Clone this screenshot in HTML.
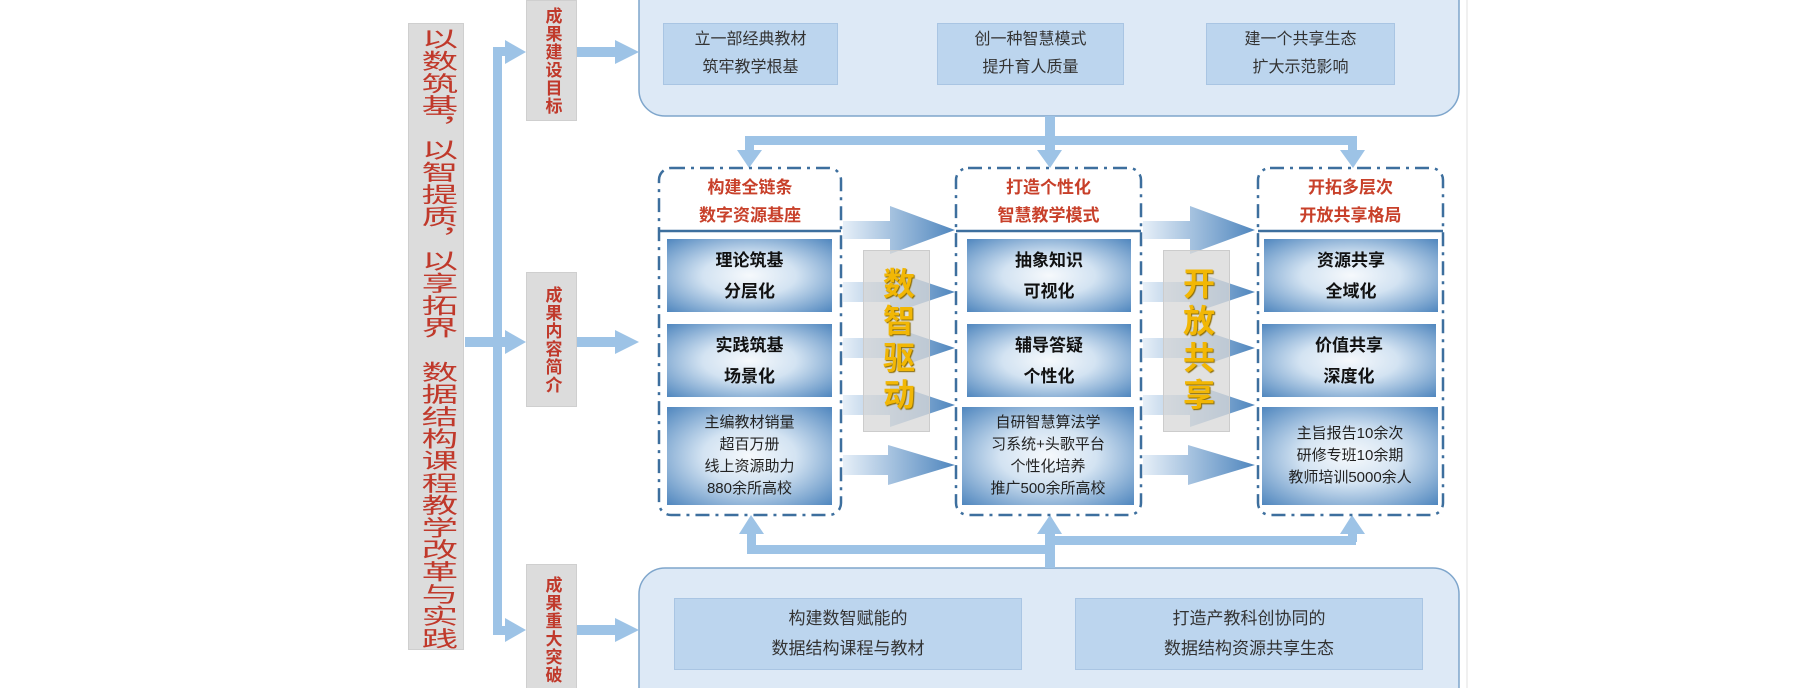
<!DOCTYPE html>
<html><head><meta charset="utf-8"><style>
html,body{margin:0;padding:0;background:#fff;}
#w{position:relative;width:1813px;height:688px;overflow:hidden;background:#fff;font-family:"Liberation Sans","Noto Sans CJK SC",sans-serif;}
.abs{position:absolute;}
.vt{writing-mode:vertical-rl;text-orientation:upright;white-space:nowrap;}
.lab{background:#dcdcdc;border:1px solid #cfcfcf;color:#c0392b;font-weight:bold;font-size:17px;line-height:20px;letter-spacing:1px;display:flex;align-items:center;justify-content:center;}
.tb{position:absolute;background:#bcd5ee;border:1px solid #a9c5e3;color:#333;font-size:16px;line-height:28px;text-align:center;display:flex;align-items:center;justify-content:center;}
.ib{position:absolute;background:radial-gradient(ellipse at center,#f6f9fc 0%,#d3e3f2 40%,#4f86be 100%);color:#111;text-align:center;display:flex;align-items:center;justify-content:center;}
.ib.b{font-weight:bold;font-size:17px;line-height:31px;}
.ib.n{font-size:15px;line-height:22px;color:#222;}
.ttl{position:absolute;color:#c8402a;font-size:17px;font-weight:bold;line-height:28px;text-align:center;}
.gold{position:absolute;background:rgba(215,215,215,0.75);border:1px solid #ccc;color:#f2b705;font-weight:bold;font-size:32px;line-height:37px;letter-spacing:5px;display:flex;align-items:center;justify-content:center;text-shadow:1px 1px 1px #8a6a00;}
</style></head><body><div id="w">
<svg class="abs" style="left:0;top:0" width="1813" height="688">
<defs>
<linearGradient id="ag" x1="0" x2="1" y1="0" y2="0"><stop offset="0" stop-color="#e6eff8"/><stop offset="1" stop-color="#4f86be"/></linearGradient>
</defs>
<line x1="1467" y1="0" x2="1467" y2="688" stroke="#e2e2e2" stroke-width="1"/>
<rect x="639" y="-30" width="820" height="146" rx="26" fill="#dde9f6" stroke="#7fa6cc" stroke-width="1.5"/>
<rect x="639" y="568" width="820" height="150" rx="26" fill="#dde9f6" stroke="#7fa6cc" stroke-width="1.5"/>
<g fill="#9dc3e6" stroke="none">
<rect x="465" y="337" width="36" height="10"/>
<rect x="493" y="48" width="9" height="587"/>
<rect x="493" y="47" width="15" height="9"/><polygon points="505,40 526,52 505,64"/>
<rect x="493" y="337" width="15" height="10"/><polygon points="505,330 526,342 505,354"/>
<rect x="493" y="626" width="15" height="9"/><polygon points="505,618 526,630 505,642"/>
<rect x="575" y="47" width="42" height="10"/><polygon points="615,40 639,52 615,64"/>
<rect x="575" y="337" width="42" height="10"/><polygon points="615,330 639,342 615,354"/>
<rect x="575" y="625" width="42" height="10"/><polygon points="615,618 639,630 615,642"/>
<rect x="1045" y="116" width="10" height="28"/>
<rect x="745" y="136" width="612" height="9"/>
<rect x="745" y="136" width="9" height="16"/><polygon points="737,150 762,150 749,168"/>
<rect x="1045" y="136" width="10" height="16"/><polygon points="1037,150 1062,150 1050,168"/>
<rect x="1348" y="136" width="9" height="16"/><polygon points="1340,150 1365,150 1353,168"/>
<rect x="1045" y="530" width="10" height="38"/>
<rect x="747" y="545" width="308" height="9"/>
<rect x="1045" y="536" width="311" height="9"/>
<rect x="747" y="532" width="9" height="20"/><polygon points="739,534 764,534 751,515"/>
<rect x="1045" y="532" width="10" height="10"/><polygon points="1037,534 1062,534 1050,515"/>
<rect x="1348" y="532" width="9" height="10"/><polygon points="1340,534 1365,534 1352,515"/>
</g>
<g fill="url(#ag)">
<polygon points="843,221 890,221 890,206 955,230 890,254 890,239 843,239"/>
<polygon points="843,282 890,282 890,270 955,292 890,314 890,302 843,302"/>
<polygon points="843,338 890,338 890,326 955,348 890,370 890,358 843,358"/>
<polygon points="843,395 890,395 890,383 955,405 890,427 890,415 843,415"/>
<polygon points="843,455 888,455 888,445 955,465 888,485 888,475 843,475"/>
<g transform="translate(300,0)">
<polygon points="843,221 890,221 890,206 955,230 890,254 890,239 843,239"/>
<polygon points="843,282 890,282 890,270 955,292 890,314 890,302 843,302"/>
<polygon points="843,338 890,338 890,326 955,348 890,370 890,358 843,358"/>
<polygon points="843,395 890,395 890,383 955,405 890,427 890,415 843,415"/>
<polygon points="843,455 888,455 888,445 955,465 888,485 888,475 843,475"/>
</g>
</g>
<g fill="none" stroke="#3d6f9e" stroke-width="2.5" stroke-dasharray="14,6,3,6">
<rect x="659" y="168" width="182" height="347" rx="12"/>
<rect x="956" y="168" width="185" height="347" rx="12"/>
<rect x="1258" y="168" width="185" height="347" rx="12"/>
</g>
<g stroke="#3d6f9e" stroke-width="2.5">
<line x1="659" y1="231" x2="841" y2="231"/>
<line x1="956" y1="231" x2="1141" y2="231"/>
<line x1="1258" y1="231" x2="1443" y2="231"/>
</g>
</svg>

<div class="abs" style="left:408px;top:23px;width:56px;height:627px;background:#dcdcdc;border:1px solid #cfcfcf;box-sizing:border-box;"></div>
<div class="abs vt" style="left:425px;top:28px;width:23px;height:620px;font-size:21.5px;line-height:23px;letter-spacing:0.7px;color:#c0392b;transform:scaleX(1.7);transform-origin:center;">以数筑基，以智提质，以享拓界　数据结构课程教学改革与实践</div>

<div class="abs lab vt" style="left:526px;top:0;width:49px;height:119px;">成果建设目标</div>
<div class="abs lab vt" style="left:526px;top:272px;width:49px;height:133px;">成果内容简介</div>
<div class="abs lab vt" style="left:526px;top:564px;width:49px;height:130px;">成果重大突破</div>

<div class="tb" style="left:663px;top:23px;width:173px;height:60px;">立一部经典教材<br>筑牢教学根基</div>
<div class="tb" style="left:937px;top:23px;width:185px;height:60px;">创一种智慧模式<br>提升育人质量</div>
<div class="tb" style="left:1206px;top:23px;width:187px;height:60px;">建一个共享生态<br>扩大示范影响</div>

<div class="tb" style="left:674px;top:598px;width:346px;height:70px;font-size:17px;line-height:30px;">构建数智赋能的<br>数据结构课程与教材</div>
<div class="tb" style="left:1075px;top:598px;width:346px;height:70px;font-size:17px;line-height:30px;">打造产教科创协同的<br>数据结构资源共享生态</div>

<div class="ttl" style="left:659px;top:174px;width:182px;">构建全链条<br>数字资源基座</div>
<div class="ttl" style="left:956px;top:174px;width:185px;">打造个性化<br>智慧教学模式</div>
<div class="ttl" style="left:1258px;top:174px;width:185px;">开拓多层次<br>开放共享格局</div>

<div class="ib b" style="left:667px;top:239px;width:165px;height:73px;">理论筑基<br>分层化</div>
<div class="ib b" style="left:667px;top:324px;width:165px;height:73px;">实践筑基<br>场景化</div>
<div class="ib n" style="left:667px;top:407px;width:165px;height:98px;">主编教材销量<br>超百万册<br>线上资源助力<br>880余所高校</div>

<div class="ib b" style="left:967px;top:239px;width:164px;height:73px;">抽象知识<br>可视化</div>
<div class="ib b" style="left:967px;top:324px;width:164px;height:73px;">辅导答疑<br>个性化</div>
<div class="ib n" style="left:962px;top:407px;width:172px;height:98px;">自研智慧算法学<br>习系统+头歌平台<br>个性化培养<br>推广500余所高校</div>

<div class="ib b" style="left:1264px;top:239px;width:174px;height:73px;">资源共享<br>全域化</div>
<div class="ib b" style="left:1262px;top:324px;width:174px;height:73px;">价值共享<br>深度化</div>
<div class="ib n" style="left:1262px;top:407px;width:176px;height:98px;">主旨报告10余次<br>研修专班10余期<br>教师培训5000余人</div>

<div class="gold vt" style="left:863px;top:250px;width:65px;height:180px;">数智驱动</div>
<div class="gold vt" style="left:1163px;top:250px;width:65px;height:180px;">开放共享</div>
</div></body></html>
